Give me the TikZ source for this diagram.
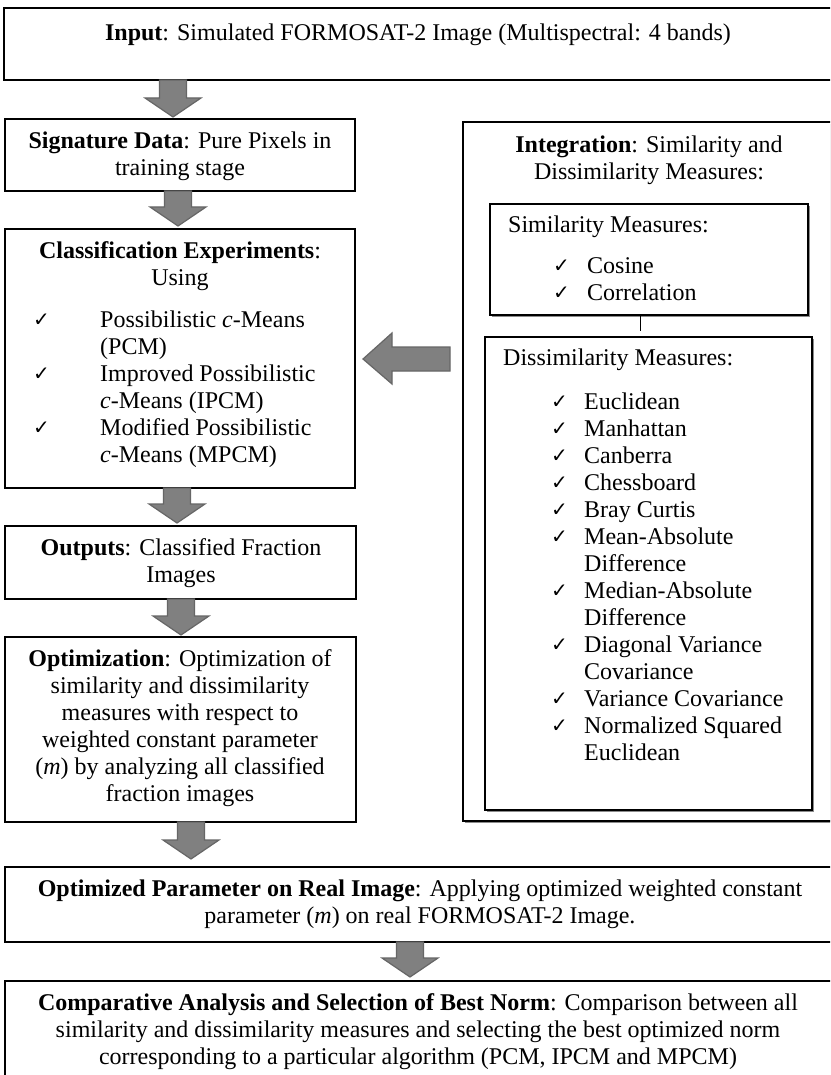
\documentclass[tikz,border=0pt]{standalone}
\usepackage{fontspec}
\setmainfont{Liberation Serif}
\newfontfamily\symf{DejaVu Sans}
\usetikzlibrary{calc,shadows}

\definecolor{arrowgray}{HTML}{808080}
\definecolor{arrowedge}{HTML}{666666}

% check mark used in the bullet lists
\newcommand\tick{\raisebox{1pt}{\symf\fontsize{20}{20}\selectfont ✓}}
\newcommand\ckA[1]{\makebox[#1][l]{\tick}}
\newcommand\hang[1]{\makebox[#1]{}}

% wide grey block arrow pointing down, from #1.south to #2.north at x = #3,
% the tip stopping #4 pt above the target box
\newcommand\blockdown[4]{%
  \path[blockarrow] let \p1=(#1.south), \p2=(#2.north) in
    (#3-13.5,\y1) -- (#3+13.5,\y1) -- (#3+13.5,\y2+#4pt+19pt) -- (#3+28,\y2+#4pt+19pt)
    -- (#3,\y2+#4pt) -- (#3-28,\y2+#4pt+19pt) -- (#3-13.5,\y2+#4pt+19pt) -- cycle;}

\begin{document}
\begin{tikzpicture}[x=1pt,y=-1pt,
  box/.style={draw, line width=2pt, inner sep=0pt, outer sep=0pt, anchor=north west, fill=white},
  sh/.style={drop shadow={shadow xshift=1.6pt, shadow yshift=-1.6pt, fill=black!45, opacity=1}},
  txt/.style={font=\fontsize{24}{27}\selectfont, inner sep=0pt, anchor=north, align=center},
  lst/.style={font=\fontsize{24}{27}\selectfont, inner sep=0pt, anchor=north west, align=left},
  blockarrow/.style={fill=arrowgray, draw=arrowedge, line width=1.2pt, line join=miter},
  link/.style={draw, line width=1pt}]

\useasboundingbox (0,0) rectangle (830,1075);
\clip (0,0) rectangle (830,1075);
\fill[white] (0,0) rectangle (830,1075);

% ---- boxes ----
\node[box, minimum width=831pt, minimum height=72pt]  (in)    at (4,8)   {};
\node[box, minimum width=350pt, minimum height=72pt]  (sig)   at (5,119) {};
\node[box, minimum width=350pt, minimum height=259pt] (cls)   at (5,229) {};
\node[box, minimum width=351pt, minimum height=73pt]  (out)   at (5,526) {};
\node[box, minimum width=351pt, minimum height=185pt] (opt)   at (5,637) {};
\node[box, minimum width=830pt, minimum height=75pt]  (real)  at (5,867) {};
\node[box, minimum width=830pt, minimum height=130pt] (comp)  at (5,981) {};
\node[box, sh, minimum width=372pt, minimum height=699pt] (integ) at (463,122) {};
\node[box, sh, minimum width=318pt, minimum height=111pt] (sim)   at (490,204) {};
\node[box, sh, minimum width=327pt, minimum height=473pt] (dis)   at (485,337) {};

% ---- texts ----
\node[txt] (intext) at (418,21.1)
  {\strut\textbf{Input}: Simulated FORMOSAT-2 Image (Multispectral: 4 bands)};
\node[txt] (sigtext) at (180,129.1)
  {\strut\textbf{Signature Data}: Pure Pixels in\\training stage};
\node[txt] (clstext) at (180,239.1)
  {\strut\textbf{Classification Experiments}:\\Using};
\node[lst] (clslist) at (33,308.1)
  {\strut\ckA{67pt}Possibilistic \textit{c}-Means\\
   \hang{67pt}(PCM)\\
   \ckA{67pt}Improved Possibilistic\\
   \hang{67pt}\textit{c}-Means (IPCM)\\
   \ckA{67pt}Modified Possibilistic\\
   \hang{67pt}\textit{c}-Means (MPCM)};
\node[txt] (outtext) at (181,536.1)
  {\strut\textbf{Outputs}: Classified Fraction\\Images};
\node[txt] (opttext) at (180,647.1)
  {\strut\textbf{Optimization}: Optimization of\\similarity and dissimilarity\\measures with respect to\\weighted constant parameter\\(\textit{m}) by analyzing all classified\\fraction images};
\node[txt] (realtext) at (420,877.1)
  {\strut\textbf{Optimized Parameter on Real Image}: Applying optimized weighted constant\\parameter (\textit{m}) on real FORMOSAT-2 Image.};
\node[txt] (comptext) at (418,991.1)
  {\strut\textbf{Comparative Analysis and Selection of Best Norm}: Comparison between all\\similarity and dissimilarity measures and selecting the best optimized norm\\corresponding to a particular algorithm (PCM, IPCM and MPCM)};
\node[txt] (integtext) at (649,133.1)
  {\strut\textbf{Integration}: Similarity and\\Dissimilarity Measures:};
\node[lst] (simtext) at (508,213.1) {\strut Similarity Measures:};
\node[lst] (simlist) at (553,254.1)
  {\strut\ckA{34pt}Cosine\\
   \ckA{34pt}Correlation};
\node[lst] (distext) at (503,346.1) {\strut Dissimilarity Measures:};
\node[lst] (dislist) at (551,390.1)
  {\strut\ckA{33pt}Euclidean\\
   \ckA{33pt}Manhattan\\
   \ckA{33pt}Canberra\\
   \ckA{33pt}Chessboard\\
   \ckA{33pt}Bray Curtis\\
   \ckA{33pt}Mean-Absolute\\
   \hang{33pt}Difference\\
   \ckA{33pt}Median-Absolute\\
   \hang{33pt}Difference\\
   \ckA{33pt}Diagonal Variance\\
   \hang{33pt}Covariance\\
   \ckA{33pt}Variance Covariance\\
   \ckA{33pt}Normalized Squared\\
   \hang{33pt}Euclidean};

% ---- connectors ----
\blockdown{in}{sig}{173}{2}
\blockdown{sig}{cls}{178}{3}
\blockdown{cls}{out}{177}{3}
\blockdown{out}{opt}{181}{2}
\blockdown{opt}{real}{191}{8}
\blockdown{real}{comp}{410}{4}

% left-pointing block arrow from the integration panel to the experiments box
\path[blockarrow] let \p1=(integ.west), \p2=(cls.east) in
  (\x1-13pt,347) -- (\x1-13pt,371) -- (\x2+37pt,371) -- (\x2+37pt,384)
  -- (\x2+8pt,359) -- (\x2+37pt,333) -- (\x2+37pt,347) -- cycle;

% thin link between the two measure boxes
\coordinate (linkend) at (640,331);
\draw[link] (sim.south -| linkend) -- (linkend);

\end{tikzpicture}
\end{document}
